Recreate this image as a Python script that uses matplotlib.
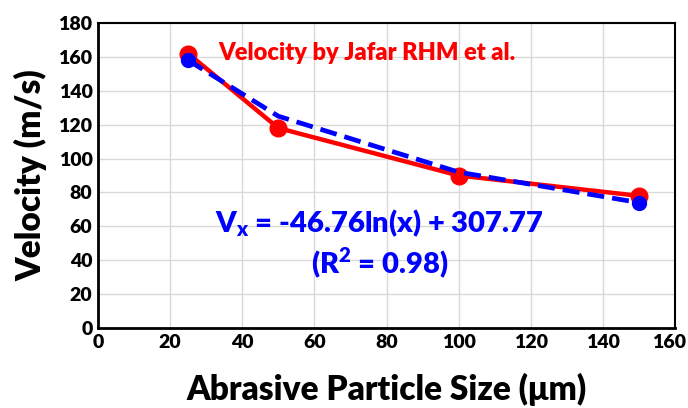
import matplotlib
matplotlib.use('Agg')
import matplotlib.pyplot as plt
from matplotlib import transforms

plt.rcParams['font.family'] = ['Lato', 'DejaVu Sans']
plt.rcParams['font.weight'] = 'heavy'
plt.rcParams['mathtext.fontset'] = 'custom'
plt.rcParams['mathtext.bf'] = 'Lato:heavy'
plt.rcParams['mathtext.rm'] = 'Lato:heavy'

size = [25, 50, 100, 150]
vel_jafar = [162, 118, 90, 78]
vel_fit = [158, 125, 92, 74]

xticks = [0, 20, 40, 60, 80, 100, 120, 140, 160]
yticks = [0, 20, 40, 60, 80, 100, 120, 140, 160, 180]

fig = plt.figure(figsize=(6.88, 4.08), dpi=100)
ax = fig.add_axes([98/688, 1-328/408, (675-98)/688, (328-23)/408])

ax.plot(size, vel_fit, color='#0000ff', lw=3.4, ls=(0, (3.6, 1.7)), marker='o', ms=10,
        markevery=[0, len(size)-1], zorder=4)
ax.plot(size, vel_jafar, color='#ff0000', lw=3.2, marker='o', ms=12, zorder=3)

ax.set_xlim(0, 160)
ax.set_ylim(0, 180)
ax.set_xticks(xticks)
ax.set_yticks(yticks)
ax.grid(True, color='#d9d9d9', lw=1)
ax.set_axisbelow(True)
for s in ax.spines.values():
    s.set_color('black')
    s.set_linewidth(1.5)
ax.spines['left'].set_linewidth(2)
ax.spines['bottom'].set_linewidth(2)
ax.tick_params(length=0, labelsize=14, pad=4)
for lab in ax.get_xticklabels() + ax.get_yticklabels():
    lab.set_fontweight('heavy')
# keep the last x tick label inside the figure
last = ax.get_xticklabels()[-1]
last.set_transform(last.get_transform() + transforms.ScaledTranslation(-6/100, 0, fig.dpi_scale_trans))

ax.text(33.5, 162, 'Velocity by Jafar RHM et al.', color='#ff0000', fontsize=17,
        fontweight='heavy', va='center', ha='left')
ax.text(78, 62, r'V$_\mathbf{x}$ = -46.76ln(x) + 307.77', color='#0000ff', fontsize=21,
        fontweight='heavy', va='center', ha='center')
ax.text(78, 38, r'(R$^\mathbf{2}$ = 0.98)', color='#0000ff', fontsize=21,
        fontweight='heavy', va='center', ha='center')

ax.set_xlabel('Abrasive Particle Size (μm)', fontsize=24, fontweight='heavy', labelpad=16)
ax.set_ylabel('Velocity (m/s)', fontsize=24, fontweight='heavy', labelpad=8)

fig.savefig('out.png', dpi=100)
